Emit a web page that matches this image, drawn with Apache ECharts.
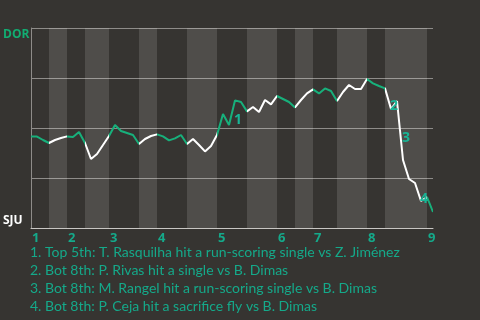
<!DOCTYPE html>
<html><head><meta charset="utf-8">
<script src="https://cdn.jsdelivr.net/npm/echarts@6/dist/echarts.min.js"></script>
<style>html,body{margin:0;padding:0;background:#363431;}#c{width:480px;height:320px;}</style>
</head><body><div id="c"></div>
<script>
// DOR win probability (%) after each plate appearance (index 0..67)
const winProb = [45.7,45.7,44,42.5,44,45,45.8,45.5,48,42.5,
  34.5,37,41.5,46,51.5,48.5,47.5,46.5,42,44.5,
  46,46.8,45.8,43.8,44.8,46.5,42,44.5,41.5,38.3,
  41,46.5,57,51.5,63.8,63,58.3,60.5,58,64,
  61.8,66,64.5,63,60.3,64,67.3,69.3,67.3,69.8,
  68.5,63.5,68,71.5,69.5,69.5,74.5,72.3,71,69.8,
  59.5,63.5,34,24.5,22.5,13.5,15.5,8];
const inningStarts = [0,6,13,21,31,41,47,56,66];
const inningLabels = ['1','2','3','4','5','6','7','8','9'];
const bottomHalves = [[3,6],[9,13],[18,21],[26,31],[36,41],[44,47],[51,56],[59,66]];
const eventIdx = [34,60,62,65];
const eventMarks = ['1','2','3','4'];
const eventTexts = [
  '1. Top 5th: T. Rasquilha hit a run-scoring single vs Z. Jiménez',
  '2. Bot 8th: P. Rivas hit a single vs B. Dimas',
  '3. Bot 8th: M. Rangel hit a run-scoring single vs B. Dimas',
  '4. Bot 8th: P. Ceja hit a sacrifice fly vs B. Dimas'
];
const teamTop = 'DOR', teamBottom = 'SJU';

const GREEN = '#17b07b', TEAL = '#15a98a';
const lineData = winProb.map((v,i)=>[i,v]);
const maxX = winProb.length - 1;

// visual pieces: top halves green, bottom halves white
const pieces = [];
let prev = 0;
bottomHalves.forEach(([a,b])=>{
  pieces.push({gte:prev, lt:a, color:GREEN});
  pieces.push({gte:a, lt:b, color:'#ffffff'});
  prev = b;
});
pieces.push({gte:prev, lte:maxX, color:GREEN});

const markPts = eventIdx.map((idx,k)=>({
  name:eventMarks[k],
  coord:[idx-0.5,(winProb[idx-1]+winProb[idx])/2]
}));

const chart = echarts.init(document.getElementById('c'),null,{renderer:'canvas'});
chart.setOption({
  backgroundColor:'#363431',
  animation:false,
  grid:{left:30,right:47,top:28,bottom:92},
  xAxis:{type:'value',min:0,max:maxX,
    axisLine:{show:true,lineStyle:{color:'#c8c6c3',width:1}},
    axisTick:{show:false},splitLine:{show:false},
    axisLabel:{customValues:inningStarts,
      formatter:(v)=>inningLabels[inningStarts.indexOf(v)]||'',
      align:'left',margin:4,padding:[0,0,0,1],
      color:TEAL,fontFamily:'Open Sans',fontWeight:'bold',fontSize:13}},
  yAxis:{type:'value',min:0,max:100,interval:25,
    axisLine:{show:true,lineStyle:{color:'#8e8c89'}},
    axisTick:{show:false},
    splitLine:{show:true,lineStyle:{color:'#8e8c89',width:1}},
    axisLabel:{margin:28,align:'left',
      formatter:(v)=>v===100?'{d|'+teamTop+'}':(v===0?'{s|'+teamBottom+'}':''),
      rich:{
        d:{color:'#12ad72',fontFamily:'Open Sans',fontWeight:'bold',fontSize:12,padding:[14,0,0,0]},
        s:{color:'#ffffff',fontFamily:'Open Sans',fontWeight:'bold',fontSize:12,padding:[0,0,14,0]}
      }}},
  visualMap:{show:false,type:'piecewise',dimension:0,seriesIndex:0,pieces:pieces},
  series:[
    {type:'line',data:lineData,showSymbol:false,symbol:'none',
      lineStyle:{width:2},z:3,
      markArea:{silent:true,itemStyle:{color:'rgba(255,255,255,0.125)'},
        data:bottomHalves.map(([a,b])=>[{xAxis:a},{xAxis:b}])},
      markPoint:{silent:true,symbol:'circle',symbolSize:0,
        itemStyle:{color:'rgba(0,0,0,0)'},
        label:{show:true,position:'inside',offset:[6,7.5],color:'#18b596',formatter:'{b}',
          fontFamily:'Open Sans',fontWeight:'bold',fontSize:14},
        data:markPts}}
  ],
  graphic:eventTexts.map((t,k)=>({type:'text',left:30,top:245+k*18,
    style:{text:t,fill:TEAL,font:'14px Lato'}}))
});
</script></body></html>
